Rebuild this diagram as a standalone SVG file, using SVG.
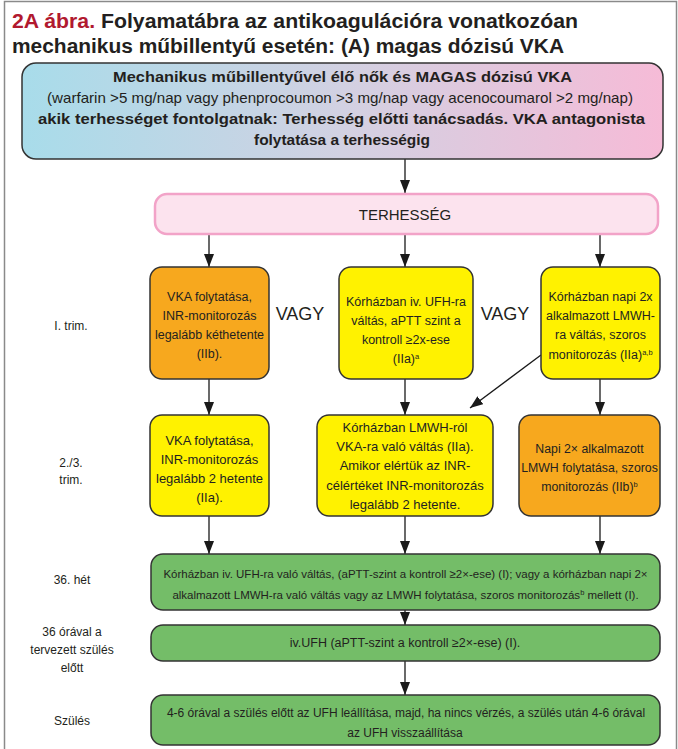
<svg xmlns="http://www.w3.org/2000/svg" width="678" height="749" viewBox="0 0 678 749">
<defs>
<linearGradient id="topgrad" x1="0" y1="0" x2="1" y2="0">
<stop offset="0" stop-color="#a8dcea"/>
<stop offset="0.5" stop-color="#d2d1e2"/>
<stop offset="1" stop-color="#f6bbd7"/>
</linearGradient>
<marker id="ah" markerUnits="userSpaceOnUse" markerWidth="13" markerHeight="10" refX="13" refY="5" orient="auto">
<path d="M0,0 L13,5 L0,10 z" fill="#1a1a1a"/>
</marker>
<style>
text{font-family:"Liberation Sans",Arial,sans-serif;fill:#231f20;}
.t{font-size:20px;font-weight:bold;}
.red{fill:#b1192f;}
.b{font-size:14.5px;text-anchor:middle;}
.bb{font-weight:bold;}
.n{font-size:12.5px;text-anchor:middle;}
.g{font-size:11.5px;text-anchor:middle;}
.g3{font-size:12px;text-anchor:middle;}
.n2{font-size:13px;text-anchor:middle;}
.n3{font-size:12.3px;text-anchor:middle;}
.lab{font-size:12px;text-anchor:middle;}
.vagy{font-size:18px;text-anchor:middle;}
.box{stroke:#333;stroke-width:1.5;}
.or{fill:#f7a81e;}
.ye{fill:#fff200;}
.gr{fill:#74bd68;}
.sup{font-size:7.5px;}
.con{stroke:#1a1a1a;stroke-width:1.3;fill:none;marker-end:url(#ah);}
</style>
</defs>
<rect width="678" height="749" fill="#ffffff"/>
<path d="M4.5,749 V1.5 H676.5 V749" fill="none" stroke="#8a8a8a" stroke-width="1.5"/>

<g id="title">
<text class="t" x="12" y="28" textLength="566" lengthAdjust="spacingAndGlyphs"><tspan class="red">2A ábra.</tspan> Folyamatábra az antikoagulációra vonatkozóan</text>
<text class="t" x="12" y="53" textLength="552" lengthAdjust="spacingAndGlyphs">mechanikus műbillentyű esetén: (A) magas dózisú VKA</text>
</g>

<g id="connectors">
<line class="con" x1="405" y1="159" x2="405" y2="193"/>
<line class="con" x1="209" y1="235" x2="209" y2="267"/>
<line class="con" x1="405" y1="235" x2="405" y2="267"/>
<line class="con" x1="600" y1="235" x2="600" y2="267"/>
<line class="con" x1="209" y1="379" x2="209" y2="415"/>
<line class="con" x1="405" y1="379" x2="405" y2="415"/>
<line class="con" x1="600" y1="379" x2="600" y2="415"/>
<line class="con" x1="541" y1="355" x2="470" y2="408"/>
<line class="con" x1="209" y1="516" x2="209" y2="554"/>
<line class="con" x1="405" y1="516" x2="405" y2="554"/>
<line class="con" x1="600" y1="516" x2="600" y2="554"/>
<line class="con" x1="405" y1="610" x2="405" y2="625"/>
<line class="con" x1="405" y1="661" x2="405" y2="695"/>
</g>

<g id="top">
<rect x="22" y="63" width="641" height="96" rx="14" fill="url(#topgrad)" class="box"/>
<text class="b bb" x="342.5" y="82" textLength="459" lengthAdjust="spacingAndGlyphs">Mechanikus műbillentyűvel élő nők és MAGAS dózisú VKA</text>
<text class="b" x="340" y="103" textLength="586" lengthAdjust="spacingAndGlyphs">(warfarin &gt;5 mg/nap vagy phenprocoumon &gt;3 mg/nap vagy acenocoumarol &gt;2 mg/nap)</text>
<text class="b bb" x="341.5" y="124" textLength="607" lengthAdjust="spacingAndGlyphs">akik terhességet fontolgatnak: Terhesség előtti tanácsadás. VKA antagonista</text>
<text class="b bb" x="342" y="145" textLength="176" lengthAdjust="spacingAndGlyphs">folytatása a terhességig</text>
</g>

<g id="terhesseg">
<rect x="155" y="194" width="503" height="40" rx="12" fill="#fce3ee" stroke="#f2a3c8" stroke-width="2.5"/>
<text x="405" y="220" style="font-size:15px;text-anchor:middle">TERHESSÉG</text>
</g>

<g id="labels">
<text class="lab" x="71" y="330">I. trim.</text>
<text class="lab" x="71" y="467">2./3.</text>
<text class="lab" x="71" y="484">trim.</text>
<text class="lab" x="72" y="584">36. hét</text>
<text class="lab" x="72" y="636">36 órával a</text>
<text class="lab" x="72" y="654">tervezett szülés</text>
<text class="lab" x="72" y="672">előtt</text>
<text class="lab" x="72" y="725">Szülés</text>
</g>

<g id="vagy">
<text class="vagy" x="300" y="320">VAGY</text>
<text class="vagy" x="505" y="320">VAGY</text>
</g>

<g id="box1">
<rect x="150" y="267" width="119" height="112" rx="12" class="box or"/>
<text class="n" x="209.5" y="301">VKA folytatása,</text>
<text class="n" x="209.5" y="320">INR-monitorozás</text>
<text class="n" x="209.5" y="339">legalább kéthetente</text>
<text class="n" x="209.5" y="358">(IIb).</text>
</g>

<g id="box2">
<rect x="339" y="267" width="134" height="112" rx="12" class="box ye"/>
<text class="n" x="406" y="306">Kórházban iv. UFH-ra</text>
<text class="n" x="406" y="325">váltás, aPTT szint a</text>
<text class="n" x="406" y="344">kontroll ≥2x-ese</text>
<text class="n" x="406" y="363">(IIa)<tspan class="sup" baseline-shift="super">a</tspan></text>
</g>

<g id="box3">
<rect x="541" y="267" width="119" height="112" rx="12" class="box ye"/>
<text class="n" x="600.5" y="301">Kórházban napi 2x</text>
<text class="n" x="600.5" y="320">alkalmazott LMWH-</text>
<text class="n" x="600.5" y="339">ra váltás, szoros</text>
<text class="n" x="600.5" y="359">monitorozás (IIa)<tspan class="sup" baseline-shift="super">a,b</tspan></text>
</g>

<g id="box4">
<rect x="150" y="415" width="119" height="101" rx="12" class="box ye"/>
<text class="n2" x="209.5" y="445">VKA folytatása,</text>
<text class="n2" x="209.5" y="464">INR-monitorozás</text>
<text class="n2" x="209.5" y="483">legalább 2 hetente</text>
<text class="n2" x="209.5" y="502">(IIa).</text>
</g>

<g id="box5">
<rect x="317" y="415" width="176" height="101" rx="12" class="box ye"/>
<text class="n2" x="405" y="432">Kórházban LMWH-ról</text>
<text class="n2" x="405" y="451">VKA-ra való váltás (IIa).</text>
<text class="n2" x="405" y="470">Amikor elértük az INR-</text>
<text class="n2" x="405" y="490">célértéket INR-monitorozás</text>
<text class="n2" x="405" y="509">legalább 2 hetente.</text>
</g>

<g id="box6">
<rect x="519" y="415" width="141" height="101" rx="12" class="box or"/>
<text class="n3" x="589.5" y="453">Napi 2× alkalmazott</text>
<text class="n3" x="589.5" y="472">LMWH folytatása, szoros</text>
<text class="n3" x="589.5" y="491">monitorozás (IIb)<tspan class="sup" baseline-shift="super">b</tspan></text>
</g>

<g id="green1">
<rect x="151" y="554" width="509" height="56" rx="12" class="box gr"/>
<text class="g" x="405.5" y="578">Kórházban iv. UFH-ra való váltás, (aPTT-szint a kontroll ≥2×-ese) (I); vagy a kórházban napi 2×</text>
<text class="g" x="405.5" y="599">alkalmazott LMWH-ra való váltás vagy az LMWH folytatása, szoros monitorozás<tspan class="sup" baseline-shift="super">b</tspan> mellett (I).</text>
</g>

<g id="green2">
<rect x="151" y="625" width="509" height="36" rx="12" class="box gr"/>
<text class="n" x="405" y="647">iv.UFH (aPTT-szint a kontroll ≥2×-ese) (I).</text>
</g>

<g id="green3">
<rect x="151" y="695" width="509" height="50" rx="12" class="box gr"/>
<text class="g3" x="406" y="717">4-6 órával a szülés előtt az UFH leállítása, majd, ha nincs vérzés, a szülés után 4-6 órával</text>
<text class="g3" x="405" y="737">az UFH visszaállítása</text>
</g>
</svg>
